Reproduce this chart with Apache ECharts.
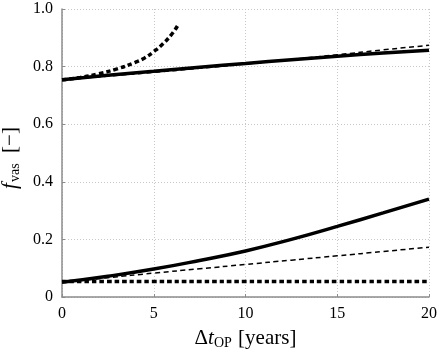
<!DOCTYPE html>
<html>
<head>
<meta charset="utf-8">
<script src="https://cdn.jsdelivr.net/npm/echarts@6/dist/echarts.min.js"></script>
<style>html,body{margin:0;padding:0;background:#fff;}#c{width:439px;height:352px;}</style>
</head>
<body>
<div id="c"></div>
<script>
var tMain = [0, 2.5, 5, 7.5, 10, 12.5, 15, 17.5, 20];
var upperSolid = [0.754, 0.770, 0.784, 0.798, 0.811, 0.824, 0.836, 0.847, 0.857];
var upperDashed = [0.754, 0.767, 0.780, 0.794, 0.809, 0.825, 0.841, 0.858, 0.874];
var lowerSolid = [0.051, 0.072, 0.097, 0.127, 0.160, 0.200, 0.245, 0.292, 0.340];
var lowerDashed = [0.051, 0.067, 0.083, 0.098, 0.113, 0.128, 0.143, 0.158, 0.173];
var lowerDotted = [0.054, 0.054, 0.054, 0.054, 0.054, 0.054, 0.054, 0.054, 0.054];
var tUpperDotted = [0, 1, 2, 3, 4, 4.5, 5, 5.5, 6, 6.3];
var upperDotted = [0.754, 0.762, 0.775, 0.792, 0.815, 0.830, 0.852, 0.879, 0.914, 0.942];
var xTicks = [0, 5, 10, 15, 20];
var yTicks = [0, 0.2, 0.4, 0.6, 0.8, 1.0];

function pairs(xs, ys) { return xs.map(function (x, i) { return [x, ys[i]]; }); }
var FONT = 'Liberation Serif';
function line(data, width, type) {
  return {
    type: 'line', data: data, smooth: true, showSymbol: false, symbol: 'none',
    lineStyle: { color: '#000', width: width, type: type }, z: 3
  };
}
var chart = echarts.init(document.getElementById('c'), null, { renderer: 'canvas' });
chart.setOption({
  animation: false,
  backgroundColor: '#fff',
  grid: { left: 62, right: 10, top: 9, bottom: 55, containLabel: false, outerBoundsMode: 'none' },
  xAxis: {
    type: 'value', min: 0, max: 20, interval: 5,
    name: '{a|Δ}{i|t}{s|OP}{a| [years]}',
    nameLocation: 'middle', nameGap: 28,
    nameTextStyle: {
      rich: {
        a: { fontFamily: FONT, fontSize: 21, color: '#000', lineHeight: 24 },
        i: { fontFamily: FONT, fontSize: 21, fontStyle: 'italic', color: '#000', lineHeight: 24 },
        s: { fontFamily: FONT, fontSize: 14, color: '#000', padding: [9, 1, 0, 0], lineHeight: 24 }
      }
    },
    axisLine: { show: true, lineStyle: { color: '#8c8c8c', width: 1.5 } },
    axisTick: { show: true, inside: true, length: 3, lineStyle: { color: '#8c8c8c' } },
    axisLabel: {
      fontFamily: FONT, fontSize: 16, color: '#000', margin: 9,
      formatter: function (v) { return xTicks.indexOf(v) >= 0 ? String(v) : ''; }
    },
    splitLine: { show: true, lineStyle: { color: '#c8c8c8', type: [1, 2], width: 1 } }
  },
  yAxis: {
    type: 'value', min: 0, max: 1, interval: 0.2,
    name: '{i|f}{s|vas}{a|  [−]}',
    nameLocation: 'middle', nameGap: 33, nameRotate: 90,
    nameTextStyle: {
      padding: [0, 10, 0, 0],
      rich: {
        a: { fontFamily: FONT, fontSize: 21, color: '#000', lineHeight: 24 },
        i: { fontFamily: FONT, fontSize: 21, fontStyle: 'italic', color: '#000', lineHeight: 24 },
        s: { fontFamily: FONT, fontSize: 14, color: '#000', padding: [9, 0, 0, 1], lineHeight: 24 }
      }
    },
    axisLine: { show: true, lineStyle: { color: '#8c8c8c', width: 1.5 } },
    axisTick: { show: true, inside: true, length: 3, lineStyle: { color: '#8c8c8c' } },
    axisLabel: {
      fontFamily: FONT, fontSize: 16, color: '#000', margin: 9,
      formatter: function (v) {
        var r = Math.round(v * 10) / 10;
        if (r === 0) return '0';
        return r.toFixed(1);
      }
    },
    splitLine: { show: true, lineStyle: { color: '#c8c8c8', type: [1, 2], width: 1 } }
  },
  series: [
    line(pairs(tMain, upperSolid), 3.5, 'solid'),
    line(pairs(tMain, upperDashed), 1.5, [5, 3.5]),
    line(pairs(tUpperDotted, upperDotted), 3.5, [4.5, 3]),
    line(pairs(tMain, lowerSolid), 3.5, 'solid'),
    line(pairs(tMain, lowerDashed), 1.5, [5, 3.5]),
    line(pairs(tMain, lowerDotted), 3.5, [4.5, 3])
  ]
});
</script>
</body>
</html>
